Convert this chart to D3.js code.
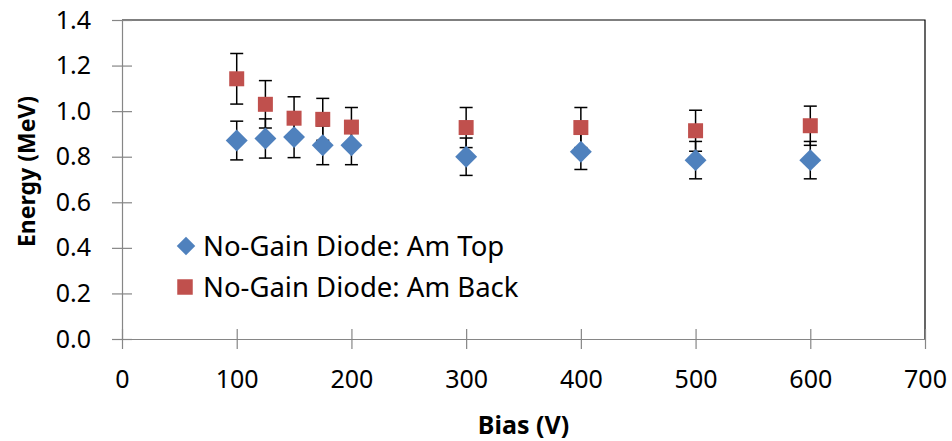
<!DOCTYPE html>
<html>
<head>
<meta charset="utf-8">
<script src="https://cdn.jsdelivr.net/npm/d3@7"></script>
<style>
  html, body { margin: 0; padding: 0; background: #fff; }
  svg { display: block; }
</style>
</head>
<body>
<svg id="chart" width="952" height="441"></svg>
<script>
// Bias voltages (V)
const biasTop = [100, 125, 150, 175, 200, 300, 400, 500, 600];
const biasBack = [100, 125, 150, 175, 200, 300, 400, 500, 600];
// Measured energies (MeV) and their uncertainties
const energyTop = [0.871, 0.880, 0.886, 0.850, 0.850, 0.800, 0.822, 0.785, 0.785];
const errTop = [0.085, 0.086, 0.090, 0.085, 0.085, 0.082, 0.078, 0.082, 0.082];
const energyBack = [1.142, 1.030, 0.969, 0.964, 0.930, 0.928, 0.928, 0.914, 0.936];
const errBack = [0.111, 0.104, 0.094, 0.092, 0.086, 0.088, 0.088, 0.090, 0.086];
const seriesNames = ["No-Gain Diode: Am Top", "No-Gain Diode: Am Back"];
const xTicks = [0, 100, 200, 300, 400, 500, 600, 700];
const yTicks = [0, 0.2, 0.4, 0.6, 0.8, 1.0, 1.2, 1.4];

const svg = d3.select("#chart");
const plotLeft = 122, plotRight = 925, plotTop = 20, plotBottom = 339;
const x = d3.scaleLinear().domain([0, 700]).range([plotLeft, plotRight]);
const y = d3.scaleLinear().domain([0, 1.4]).range([plotBottom, plotTop]);

const labelFont = "'Noto Sans', 'Open Sans', sans-serif";
const axisGray = "#868686";

// Plot-area frame (top and right edges)
svg.append("path")
  .attr("d", `M${plotLeft},${plotTop}H${plotRight}V${plotBottom}`)
  .attr("fill", "none").attr("stroke", "#000").attr("stroke-width", 1.2);

// Y axis
const yAxis = svg.append("g").attr("transform", `translate(${plotLeft},0)`)
  .call(d3.axisLeft(y).tickValues(yTicks).tickFormat(d3.format(".1f")).tickSizeInner(10).tickSizeOuter(0).tickPadding(21));
yAxis.select(".domain").attr("stroke", axisGray).attr("stroke-width", 1.2);
yAxis.selectAll(".tick line").attr("stroke", axisGray).attr("x2", 10).attr("x1", -10).attr("stroke-width", 1.2);
yAxis.selectAll(".tick text").attr("font-family", labelFont).attr("font-size", 25).attr("fill", "#000");

// X axis
const xAxis = svg.append("g").attr("transform", `translate(0,${plotBottom})`)
  .call(d3.axisBottom(x).tickValues(xTicks).tickFormat(d3.format("d")).tickSizeInner(10).tickSizeOuter(0).tickPadding(21));
xAxis.select(".domain").attr("stroke", axisGray).attr("stroke-width", 1.2);
xAxis.selectAll(".tick line").attr("stroke", axisGray).attr("y1", -10).attr("y2", 10).attr("stroke-width", 1.2);
xAxis.selectAll(".tick text").attr("font-family", labelFont).attr("font-size", 25).attr("fill", "#000");

// Axis titles
svg.append("text")
  .attr("x", (plotLeft + plotRight) / 2).attr("y", 434)
  .attr("text-anchor", "middle")
  .attr("font-family", labelFont).attr("font-weight", "bold").attr("font-size", 25)
  .text("Bias (V)");
svg.append("text")
  .attr("transform", `translate(35,${(plotTop + plotBottom) / 2 - 8}) rotate(-90)`)
  .attr("text-anchor", "middle")
  .attr("font-family", labelFont).attr("font-weight", "bold").attr("font-size", 23)
  .text("Energy (MeV)");

const blue = "#4F81BD", red = "#C0504D";
const capHalf = 6.5;

function errorBars(xs, ys, es) {
  const g = svg.append("g").attr("stroke", "#000").attr("stroke-width", 1.5);
  xs.forEach((b, i) => {
    const cx = x(b), y1 = y(ys[i] + es[i]), y0 = y(ys[i] - es[i]);
    g.append("line").attr("x1", cx).attr("x2", cx).attr("y1", y1).attr("y2", y0);
    g.append("line").attr("x1", cx - capHalf).attr("x2", cx + capHalf).attr("y1", y1).attr("y2", y1);
    g.append("line").attr("x1", cx - capHalf).attr("x2", cx + capHalf).attr("y1", y0).attr("y2", y0);
  });
}

errorBars(biasTop, energyTop, errTop);
errorBars(biasBack, energyBack, errBack);

const diamond = d3.symbol().type(d3.symbolSquare).size(240);
const square = d3.symbol().type(d3.symbolSquare).size(225);

// Am Top: diamonds
svg.append("g").selectAll("path").data(biasTop).join("path")
  .attr("d", diamond)
  .attr("transform", (d, i) => `translate(${x(d)},${y(energyTop[i])}) rotate(45)`)
  .attr("fill", blue);

// Am Back: squares
svg.append("g").selectAll("path").data(biasBack).join("path")
  .attr("d", square)
  .attr("transform", (d, i) => `translate(${x(d)},${y(energyBack[i])})`)
  .attr("fill", red);

// Legend
const legend = svg.append("g");
legend.append("path").attr("d", d3.symbol().type(d3.symbolSquare).size(170))
  .attr("transform", "translate(186,246) rotate(45)").attr("fill", blue);
legend.append("path").attr("d", d3.symbol().type(d3.symbolSquare).size(240))
  .attr("transform", "translate(185,287)").attr("fill", red);
legend.selectAll("text").data(seriesNames).join("text")
  .attr("x", 203).attr("y", (d, i) => 256 + i * 41)
  .attr("font-family", labelFont).attr("font-size", 27.5)
  .text(d => d);
</script>
</body>
</html>
